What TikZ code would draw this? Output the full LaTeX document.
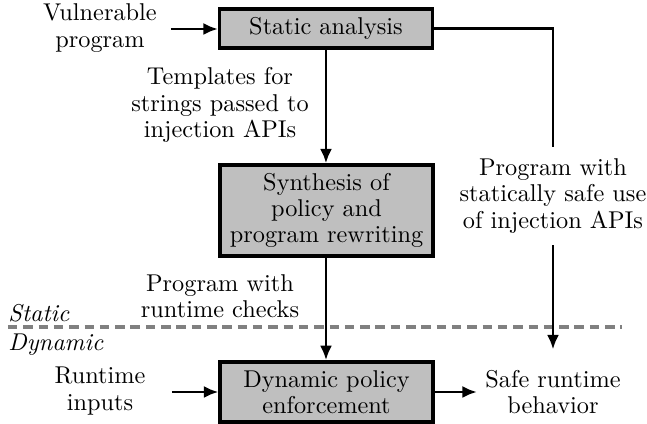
\documentclass[tikz,border=0pt]{standalone}
\usetikzlibrary{arrows.meta}
\begin{document}
\begin{tikzpicture}[x=0.4115pt,y=-0.4115pt,
  every node/.style={font=\fontsize{10}{10.8}\selectfont, align=center},
  procbox/.style={draw=black, line width=1.4pt, fill=black!25, minimum width=87.5pt, inner sep=2pt},
  txt/.style={inner sep=3.3pt},
  lbl/.style={inner sep=3.3pt, fill=white},
  arr/.style={line width=1.2pt, -{Latex[length=6pt,width=5pt]}},
  sep/.style={draw=black!50, line width=1.3pt, dash pattern=on 3.9pt off 2.4pt}]
\useasboundingbox (0,0) rectangle (647,424);
% boxes
\node[procbox, minimum height=16pt] (sa) at (326,28.5) {Static analysis};
\node[procbox, minimum height=37.4pt] (syn) at (326.5,210.5) {Synthesis of\\policy and\\program rewriting};
\node[procbox, minimum height=24.7pt] (dp) at (326.5,392) {Dynamic policy\\enforcement};
% text nodes
\node[txt] (vp) at (100,28) {Vulnerable\\program};
\node[txt] (ri) at (100,391) {Runtime\\inputs};
\node[txt] (sr) at (553,392) {Safe runtime\\behavior};
\node[txt] (tl) at (220,105) {Templates for\\strings passed to\\injection APIs};
\node[txt] (rc) at (220,296) {Program with\\runtime checks};
\node[txt, anchor=west, inner sep=0pt] (st) at (8,313) {\itshape Static};
\node[txt, anchor=west, inner sep=0pt] (dy) at (8,345) {\itshape Dynamic};
\coordinate (vpout) at (171,29);
\coordinate (riout) at (172,392);
\coordinate (sepl) at (8,327);
\coordinate (sepr) at (622,327);
% separator
\draw[sep] (sepl) -- (sepr);
% connectors
\draw[arr] (vpout) -- (vpout -| sa.west);
\draw[arr] (riout) -- (riout -| dp.west);
\draw[arr] (sa.south -| 326,0) -- (syn.north -| 326,0);
\draw[arr] (syn.south -| 326,0) -- (dp.north -| 326,0);
\draw[arr] (dp.east) -- (sr.west);
\draw[arr] (sa.east) -| ([yshift=5pt]sr.north);
\node[lbl, inner ysep=5pt] (sl) at (553,196) {Program with\\statically safe use\\of injection APIs};
\end{tikzpicture}
\end{document}
